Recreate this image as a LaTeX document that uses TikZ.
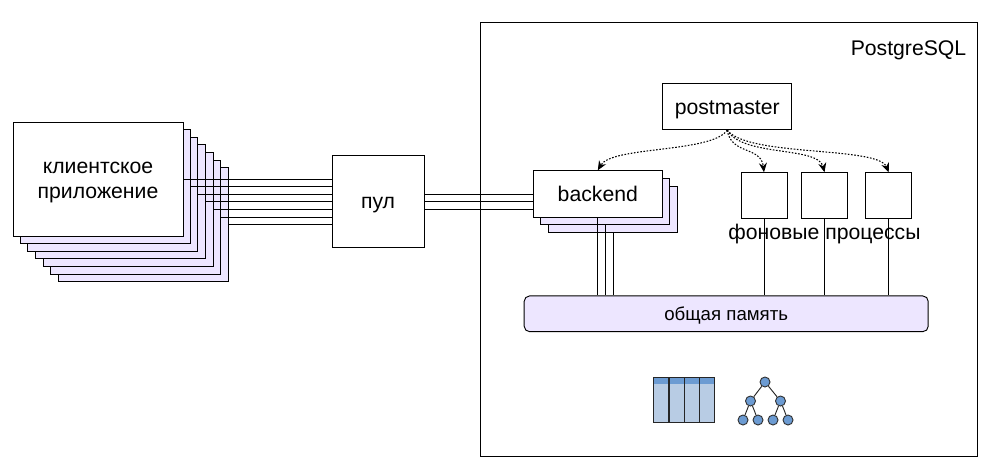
\documentclass[tikz,border=0pt]{standalone}
\usepackage{fontspec}
\setmainfont{Liberation Sans}
\usetikzlibrary{arrows.meta}
\definecolor{stackfill}{HTML}{EDE6FF}
\definecolor{iconhead}{HTML}{6C9BD2}
\definecolor{iconbody}{HTML}{B8CCE4}
\tikzset{
  sz/.style 2 args={minimum width=#1*0.75pt,minimum height=#2*0.75pt},
  boxbase/.style={draw=black,line width=0.7pt,inner sep=0pt,align=center,font=\fontsize{15.9}{18.75}\selectfont},
  oneline/.style={text height=13pt,text depth=1.8pt},
  whitebox/.style={boxbase,fill=white},
  stackbox/.style={boxbase,fill=stackfill,sz={170}{114}},
  backbox/.style={boxbase,fill=stackfill,sz={129}{46.5}},
  smallbox/.style={whitebox,sz={46}{46}},
  plainlabel/.style={oneline,inner sep=0pt,font=\fontsize{15.9}{18.75}\selectfont},
  wire/.style={draw=black,line width=0.7pt},
  dotarrow/.style={draw=black,line width=0.8pt,dash pattern=on 1.2pt off 1.2pt,-{Stealth[length=7pt,width=6pt,fill=black]}},
  treenode/.style={circle,draw=black!80,line width=0.7pt,fill=iconhead,minimum size=7.5pt,inner sep=0pt},
  treeedge/.style={draw=black!85,line width=0.7pt},
  iconline/.style={draw=black!85,line width=1pt}
}
\begin{document}
\begin{tikzpicture}[x=0.75pt,y=-0.75pt]
\useasboundingbox (0,0) rectangle (995,475);
% outer frame
\node[boxbase,sz={497}{434}] (frame) at (728.5,239) {};
\node[plainlabel,anchor=east] (pglabel) at (966.5,48) {PostgreSQL};
% client stack
\node[stackbox] (c6) at (143,224.5) {};
\node[stackbox] (c5) at (135.5,217) {};
\node[stackbox] (c4) at (128,209.3) {};
\node[stackbox] (c3) at (120,201.7) {};
\node[stackbox] (c2) at (112.5,194) {};
\node[stackbox] (c1) at (105,186.5) {};
\node[whitebox,sz={170}{114}] (c0) at (98,179) {\rule{0pt}{14.3pt}клиентское\\приложение};
\node[whitebox,oneline,sz={92}{92}] (pool) at (378,201.5) {пул};
\foreach \n in {c0,c1,c2,c3,c4,c5,c6}
  \draw[wire] (\n.east) -- (\n.east -| pool.west);
% backends
\node[backbox] (b2) at (613,209.7) {};
\node[backbox] (b1) at (605.3,201.7) {};
\draw[wire] (pool.east |- b1.west) -- (b1.west);
\draw[wire] (pool.east |- b2.west) -- (b2.west);
\node[whitebox,oneline,sz={129}{46.5}] (b0) at (597.8,194) {backend};
\draw[wire] (pool.east |- b0.west) -- (b0.west);
% shared memory
\node[boxbase,fill=stackfill,rounded corners=4pt,sz={404}{35.7},font=\fontsize{14}{16}\selectfont,text height=11.5pt,text depth=1.6pt] (shm) at (726.2,313.8) {общая память};
\foreach \n in {b0,b1,b2}
  \draw[wire] (\n.south) -- (\n.south |- shm.north);
% postmaster and background processes
\node[whitebox,oneline,sz={129}{45.7}] (pm) at (727.2,106.8) {postmaster};
\node[smallbox] (p1) at (764,195.7) {};
\node[smallbox] (p2) at (824.5,195.7) {};
\node[smallbox] (p3) at (888.7,195.7) {};
\foreach \n in {p1,p2,p3}
  \draw[wire] (\n.south) -- (\n.south |- shm.north);
\node[plainlabel] (bglabel) at (824.5,232) {фоновые процессы};
% dotted arrows
\draw[dotarrow] (pm.south) .. controls (712,153) and (612,146) .. (b0.north);
\draw[dotarrow] (pm.south) .. controls (731,155) and (761,146) .. (p1.north);
\draw[dotarrow] (pm.south) .. controls (742,157) and (818,146) .. (p2.north);
\draw[dotarrow] (pm.south) .. controls (748,157) and (878,146) .. (p3.north);
% table icon
\fill[iconbody] (653.7,377.3) rectangle (714.7,422.3);
\fill[iconhead] (653.7,377.3) rectangle (714.7,384.3);
\draw[iconline] (653.7,377.3) rectangle (714.7,422.3);
\draw[iconline] (669,377.3) -- (669,422.3);
\draw[iconline] (684.2,377.3) -- (684.2,422.3);
\draw[iconline] (699.5,377.3) -- (699.5,422.3);
% tree icon
\node[treenode] (t0) at (765,382) {};
\node[treenode] (t1) at (750.5,401) {};
\node[treenode] (t2) at (780.5,401) {};
\node[treenode] (t3) at (743,420) {};
\node[treenode] (t4) at (758,420) {};
\node[treenode] (t5) at (773,420) {};
\node[treenode] (t6) at (788,420) {};
\draw[treeedge] (t0) -- (t1);
\draw[treeedge] (t0) -- (t2);
\draw[treeedge] (t1) -- (t3);
\draw[treeedge] (t1) -- (t4);
\draw[treeedge] (t2) -- (t5);
\draw[treeedge] (t2) -- (t6);
\end{tikzpicture}
\end{document}
